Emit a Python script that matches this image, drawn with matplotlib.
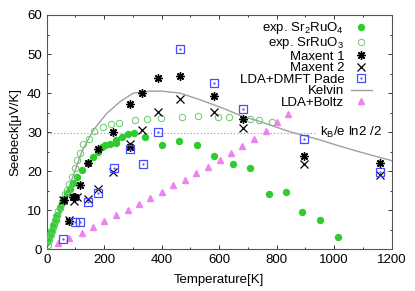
import matplotlib
matplotlib.use("Agg")
import matplotlib.pyplot as plt
from matplotlib.ticker import MultipleLocator

plt.rcParams['font.family'] = ['Liberation Sans', 'DejaVu Sans']
plt.rcParams['mathtext.default'] = 'regular'
FS = 9.5
plt.rcParams['font.size'] = FS

# exp. Sr2RuO4 (filled green circles)
sr214_T = [2, 7, 11, 16, 21, 25, 31, 37, 46, 53, 61, 70, 81, 93, 107, 122, 143, 162,
           180, 191, 203, 220, 240, 240, 262, 282, 303, 341, 401, 461, 523, 583, 648,
           708, 772, 832, 889, 951, 1012]
sr214_S = [1.9, 3.0, 3.8, 4.7, 5.6, 6.5, 7.5, 8.7, 10.7, 11.8, 12.6, 14.3, 15.4, 16.9,
           18.4, 20.3, 22.2, 23.7, 24.8, 26.3, 26.7, 27.0, 27.1, 28.0, 28.8, 29.4, 29.7,
           28.8, 26.7, 27.8, 26.8, 24.0, 21.9, 20.8, 14.1, 14.8, 9.6, 7.6, 3.1]

# exp. SrRuO3 (open green circles)
sr113_T = [4, 9, 14, 18, 23, 29, 34, 40, 46, 52, 58, 64, 70, 78, 87, 98, 107, 116, 127,
           148, 164, 196, 224, 251, 307, 349, 398, 470, 527, 595, 635, 707, 737, 784]
sr113_S = [1.1, 2.3, 3.6, 4.8, 6.2, 7.5, 8.6, 9.8, 10.9, 12.0, 13.0, 14.1, 15.2, 16.8,
           18.6, 20.7, 22.9, 24.7, 27.0, 28.2, 30.3, 31.3, 32.0, 32.4, 33.1, 33.4, 33.7,
           34.0, 34.1, 34.0, 33.8, 33.4, 33.2, 32.7]

# Maxent 1 (asterisks)
me1_T = [60, 76, 93, 100, 116, 145, 180, 232, 290, 290, 333, 387, 464, 581, 682, 894, 1160]
me1_S = [12.6, 7.3, 13.3, 13.3, 16.5, 22.0, 25.6, 30.1, 26.3, 37.3, 40.0, 43.8, 44.4,
         39.3, 33.4, 23.9, 22.0]

# Maxent 2 (crosses)
me2_T = [58, 78, 95, 107, 145, 180, 232, 290, 333, 387, 464, 581, 682, 894, 1160]
me2_S = [12.6, 7.5, 12.4, 13.3, 13.0, 15.4, 19.7, 26.9, 30.5, 35.1, 38.5, 35.2, 31.1,
         21.8, 19.0]

# LDA+DMFT Pade (squares)
pade_T = [58, 97, 117, 145, 180, 233, 290, 334, 387, 464, 581, 682, 894, 1160]
pade_S = [2.6, 7.0, 6.9, 12.1, 14.3, 20.7, 25.8, 21.8, 30.1, 51.2, 42.7, 35.9, 28.2, 19.9]

# LDA+Boltz (triangles)
boltz_T = [41, 79, 122, 160, 200, 241, 282, 321, 360, 401, 440, 481, 520, 561, 602, 641,
           680, 720, 762, 801, 840]
boltz_S = [1.5, 2.8, 4.3, 5.6, 7.2, 8.7, 10.1, 11.7, 13.1, 14.7, 16.4, 17.8, 19.5, 21.2,
           22.9, 24.6, 26.5, 28.3, 30.4, 32.6, 34.6]

# Kelvin curve
kelvin_T = [0, 50, 93, 122, 162, 209, 255, 301, 359, 400, 464, 533, 614, 682, 730, 846,
            951, 1020, 1100, 1200]
kelvin_S = [0, 10.0, 19.0, 25.0, 30.5, 34.8, 37.8, 40.0, 40.5, 40.5, 40.0, 38.3, 36.1,
            34.0, 33.0, 30.1, 28.0, 26.4, 24.7, 22.7]

kb_level = 29.9
kb_end = 933

fig = plt.figure(figsize=(4.15, 2.91), dpi=100)
ax = fig.add_axes([0.1125, 0.1433, 0.8314, 0.8052])

green = '#2ecc2e'
lgreen = '#66cc66'
blue = '#4a4aff'
violet = '#ee82ee'

ax.plot([0, kb_end], [kb_level, kb_level], ls=(0, (1, 2)), color='#999999', lw=0.8, zorder=1)
ax.text(950, kb_level, 'k$_B$/e ln2 /2', va='center', ha='left', fontsize=FS)

h1, = ax.plot(sr214_T, sr214_S, 'o', color=green, ms=4.3, mec=green, ls='none', zorder=3)
h2, = ax.plot(sr113_T, sr113_S, 'o', mfc='none', mec=lgreen, mew=0.7, ms=4.6, ls='none', zorder=3)
h3, = ax.plot(me1_T, me1_S, marker=(8, 2, 0), color='black', ms=6, mew=1.0, ls='none', zorder=4)
h4, = ax.plot(me2_T, me2_S, 'x', color='black', ms=6, mew=0.9, ls='none', zorder=4)
h5a, = ax.plot(pade_T, pade_S, 's', mfc='none', mec=blue, mew=0.9, ms=5.8, ls='none', zorder=4)
h5b, = ax.plot(pade_T, pade_S, '.', color=blue, ms=1.2, ls='none', zorder=4)
h6, = ax.plot(kelvin_T, kelvin_S, '-', color='#a0a0a0', lw=1.0, zorder=2)
h7, = ax.plot(boltz_T, boltz_S, '^', color=violet, ms=4.0, ls='none', zorder=3)

ax.set_xlim(0, 1200)
ax.set_ylim(0, 60)
ax.xaxis.set_major_locator(MultipleLocator(200))
ax.xaxis.set_minor_locator(MultipleLocator(100))
ax.yaxis.set_major_locator(MultipleLocator(10))
ax.yaxis.set_minor_locator(MultipleLocator(5))
ax.tick_params(which='both', direction='in', top=True, right=True, width=0.7, colors='#333333',
               labelcolor='black', labelsize=FS)
ax.tick_params(which='major', length=3)
ax.tick_params(which='minor', length=1.6)
for s in ax.spines.values():
    s.set_color('#555555')
    s.set_linewidth(0.8)

ax.set_xlabel('Temperature[K]', fontsize=FS, labelpad=6)
ax.set_ylabel('Seebeck[μV/K]', fontsize=FS, labelpad=4)

leg = ax.legend([h1, h2, h3, h4, (h5a, h5b), h6, h7],
                ['exp. Sr$_2$RuO$_4$', 'exp. SrRuO$_3$', 'Maxent 1', 'Maxent 2',
                 'LDA+DMFT Pade', 'Kelvin', 'LDA+Boltz'],
                loc='upper right', bbox_to_anchor=(0.962, 1.006), frameon=False,
                markerfirst=False, handlelength=1.6, handletextpad=0.5,
                labelspacing=-0.06, borderpad=0.0, fontsize=FS)
for col in leg._legend_handle_box.get_children():
    col.align = 'right'

fig.savefig('out.png', dpi=100)
